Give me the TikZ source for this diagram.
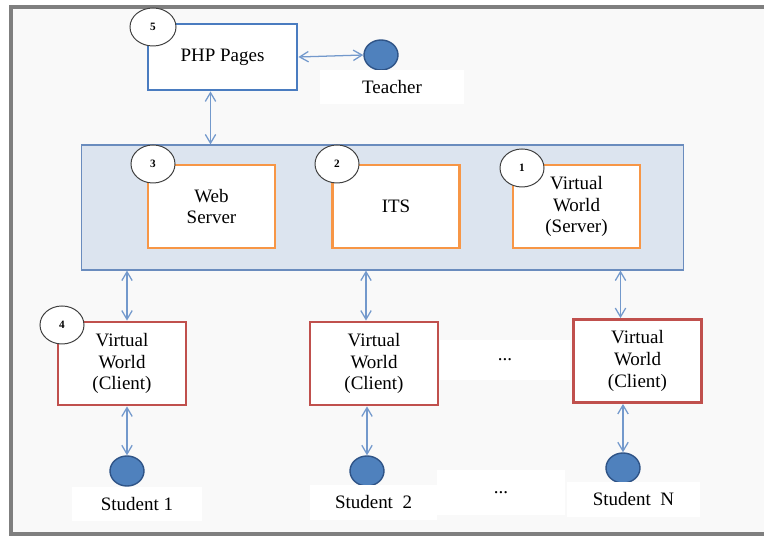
\documentclass[tikz,border=0pt]{standalone}
\usepackage{fontspec}
\setmainfont{Liberation Serif}
\usepackage{xcolor}
\usetikzlibrary{arrows.meta,positioning,shapes.geometric}
\definecolor{vwBlue}{HTML}{4A7CC0}
\definecolor{vwOrange}{HTML}{F79646}
\definecolor{vwRed}{HTML}{C0504D}
\definecolor{vwDot}{HTML}{4F81BD}
\definecolor{vwDotLine}{HTML}{2F5487}
\definecolor{vwCore}{HTML}{DCE4EF}
\definecolor{vwCoreLine}{HTML}{6A8CBE}
\definecolor{vwLink}{HTML}{7399CC}
\definecolor{vwPage}{HTML}{F9F9F9}
\definecolor{vwFrame}{HTML}{7F7F7F}
\tikzset{
  box/.style={
    rectangle,
    draw,
    line width=2pt,
    fill=white,
    align=center,
    font=\fontsize{13.5}{15.5}\selectfont,
    minimum width=3.2cm,
    minimum height=2.075cm
  },
  page/.style={box, draw=vwBlue, minimum width=3.725cm, minimum height=1.65cm},
  service/.style={box, draw=vwOrange, minimum width=3.175cm},
  client/.style={box, draw=vwRed},
  tag/.style={
    ellipse,
    draw=black!75,
    line width=0.7pt,
    fill=white,
    font=\fontsize{8}{9}\selectfont\bfseries,
    minimum width=1.15cm,
    minimum height=0.95cm
  },
  actor/.style={
    ellipse,
    draw=vwDotLine,
    line width=1pt,
    fill=vwDot,
    minimum width=0.85cm,
    minimum height=0.75cm
  },
  label/.style={
    rectangle,
    fill=white,
    font=\fontsize{13.5}{15.5}\selectfont,
    minimum width=3.25cm,
    minimum height=0.85cm
  },
  link/.style={{Straight Barb[length=2.2mm,width=2.6mm]}-{Straight Barb[length=2.2mm,width=2.6mm]}, line width=0.9pt, draw=vwLink}
}
\begin{document}
\begin{tikzpicture}[x=0.025cm,y=-0.025cm]
  \clip (0,0) rectangle (764,537);
  \fill[white] (0,0) rectangle (764,537);
  \draw[vwFrame, line width=2.2pt, fill=vwPage] (11,7) rectangle (780,534);

  % top: pages and teacher
  \node[page] (php) at (222.5,57) {PHP Pages};
  \node[tag] (t5) at (153,27) {5};
  \node[actor] (teacher) at (381,55) {};
  \node[label, minimum width=3.6cm] (teacherlbl) at (392,87) {Teacher};

  % server block
  \node[rectangle, draw=vwCoreLine, line width=0.8pt, fill=vwCore,
        minimum width=15.025cm, minimum height=3.125cm] (core) at (382.5,207.5) {};
  \node[service] (web) at (211.5,206.5) {Web\\Server};
  \node[service] (its) at (396,206.5) {ITS};
  \node[service] (vws) at (576.5,206.5) {Virtual\\World\\(Server)};
  \node[tag, minimum width=1.1cm] (t3) at (153,164) {3};
  \node[tag, minimum width=1.1cm] (t2) at (337,164) {2};
  \node[tag, minimum width=1.1cm] (t1) at (522,168) {1};

  % clients
  \node[client] (vwc1) at (122,363.5) {Virtual\\World\\(Client)};
  \node[client] (vwc2) at (374,363.5) {Virtual\\World\\(Client)};
  \node[client] (vwcn) at (637.5,361) {Virtual\\World\\(Client)};
  \node[tag, minimum width=1.1cm] (t4) at (62,325) {4};
  \node[label, minimum height=1cm] (dotsup) at (505,360) {...};

  % students
  \node[actor] (stu1) at (127,471) {};
  \node[actor] (stu2) at (367,471) {};
  \node[actor] (stun) at (623,468) {};
  \node[label] (stu1lbl) at (137,504) {Student 1};
  \node[label, minimum width=3.175cm] (stu2lbl) at (373.5,502.5) {Student\ \ 2};
  \node[label, minimum width=3.2cm, minimum height=1.125cm] (dotsdown) at (501,492.5) {...};
  \node[label, minimum width=3.325cm] (stunlbl) at (633.5,499.5) {Student\ \ N};

  % connectors
  \draw[link] (php.east) -- (teacher.west);
  \draw[link] ([xshift=-0.3cm]php.south) -- ([xshift=-0.3cm]php.south |- core.north);
  \draw[link] ([xshift=0.125cm]vwc1.north |- core.south) -- ([xshift=0.125cm]vwc1.north);
  \draw[link] ([xshift=-0.2cm]vwc2.north |- core.south) -- ([xshift=-0.2cm]vwc2.north);
  \draw[link] ([xshift=-0.425cm]vwcn.north |- core.south) -- ([xshift=-0.425cm]vwcn.north);
  \draw[link] (stu1 |- vwc1.south) -- (stu1.north);
  \draw[link] (stu2 |- vwc2.south) -- (stu2.north);
  \draw[link] (stun |- vwcn.south) -- (stun.north);
\end{tikzpicture}
\end{document}
